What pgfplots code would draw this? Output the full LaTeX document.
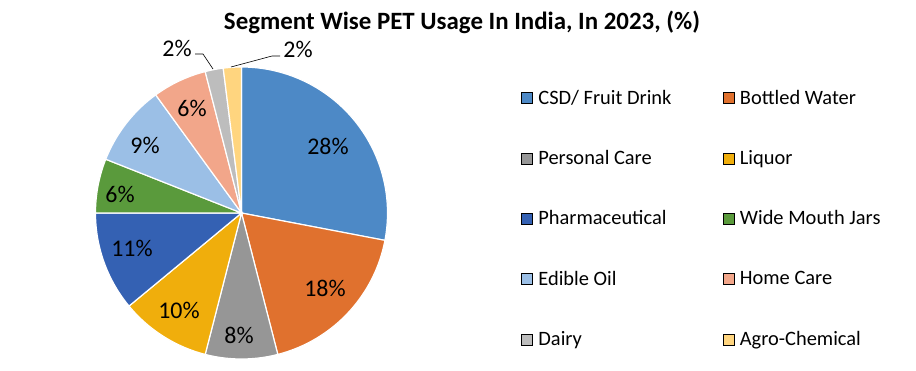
\documentclass[border=0pt]{standalone}
\usepackage{pgfplots}
\pgfplotsset{compat=1.18}
\usepackage{fontspec}
\setmainfont{Carlito}
\definecolor{cCSD}{HTML}{4D89C6}
\definecolor{cBW}{HTML}{E0712E}
\definecolor{cPC}{HTML}{969696}
\definecolor{cLQ}{HTML}{F0AE0C}
\definecolor{cPH}{HTML}{3461B3}
\definecolor{cWM}{HTML}{5A9A3C}
\definecolor{cEO}{HTML}{9BBFE6}
\definecolor{cHC}{HTML}{F2A68A}
\definecolor{cDA}{HTML}{BDBDBD}
\definecolor{cAG}{HTML}{FFD57F}
% #1 = cumulative share before this slice (%), #2 = share (%), #3 = colour
\newcommand{\slice}[3]{%
  \addplot[fill=#3, draw=white, line width=1.2bp, domain={90-3.6*(#1+#2)}:{90-3.6*(#1)}, samples=80, forget plot]
    ({241.5+146*cos(x)},{158+146*sin(x)}) -- (axis cs:241.5,158) -- cycle;}
\begin{document}
\begin{tikzpicture}
\begin{axis}[
  width=916bp, height=371bp, scale only axis,
  xmin=0, xmax=916, ymin=0, ymax=371,
  hide axis, clip=false,
  legend columns=2,
  legend cell align=left,
  legend image code/.code={\fill[#1] (0bp,-5.5bp) rectangle (11bp,5.5bp);},
  legend style={draw=none, fill=none, font=\fontsize{20.5}{24}\selectfont,
    at={(axis cs:521,281)}, anchor=north west,
    inner sep=0pt, outer sep=0pt,
    row sep=44.7bp,
    nodes={inner sep=0pt, outer sep=0pt},
    /tikz/every odd column/.append style={column sep=6bp},
    /tikz/every even column/.append style={column sep=51bp}},
]
\path (axis cs:0,0) rectangle (axis cs:916,371);
\slice{0}{28}{cCSD}
\slice{28}{18}{cBW}
\slice{46}{8}{cPC}
\slice{54}{10}{cLQ}
\slice{64}{11}{cPH}
\slice{75}{6}{cWM}
\slice{81}{9}{cEO}
\slice{90}{6}{cHC}
\slice{96}{2}{cDA}
\slice{98}{2}{cAG}

\addplot[black, line width=0.6bp, forget plot] coordinates {(195,317) (203,317) (213,302)};
\addplot[black, line width=0.6bp, forget plot] coordinates {(280,315) (272,315) (231,304)};

\addlegendimage{fill=cCSD}\addlegendentry{CSD/ Fruit Drink}
\addlegendimage{fill=cBW}\addlegendentry{Bottled Water}
\addlegendimage{fill=cPC}\addlegendentry{Personal Care}
\addlegendimage{fill=cLQ}\addlegendentry{Liquor}
\addlegendimage{fill=cPH}\addlegendentry{Pharmaceutical}
\addlegendimage{fill=cWM}\addlegendentry{Wide Mouth Jars}
\addlegendimage{fill=cEO}\addlegendentry{Edible Oil}
\addlegendimage{fill=cHC}\addlegendentry{Home Care}
\addlegendimage{fill=cDA}\addlegendentry{Dairy}
\addlegendimage{fill=cAG}\addlegendentry{Agro-Chemical}

\begin{scope}[every node/.style={font=\fontsize{24}{28}\selectfont}]
\node at (axis cs:328,225) {28\%};
\node at (axis cs:325,83) {18\%};
\node at (axis cs:239,36) {8\%};
\node at (axis cs:179,61) {10\%};
\node at (axis cs:132,123) {11\%};
\node at (axis cs:120,177) {6\%};
\node at (axis cs:145,226) {9\%};
\node at (axis cs:192,263) {6\%};
\node at (axis cs:177,323) {2\%};
\node at (axis cs:298,322) {2\%};
\end{scope}
\node[font=\bfseries\fontsize{25}{30}\selectfont] at (axis cs:462,349) {Segment Wise PET Usage In India, In 2023, (\%)};
\end{axis}
\end{tikzpicture}
\end{document}
